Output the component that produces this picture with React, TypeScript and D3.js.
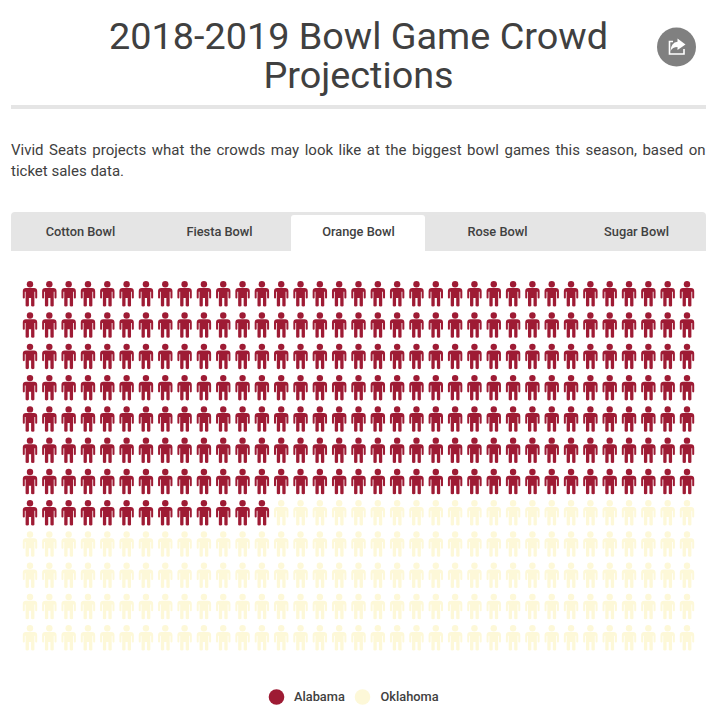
import * as d3 from "d3";

const tabs = ["Cotton Bowl", "Fiesta Bowl", "Orange Bowl", "Rose Bowl", "Sugar Bowl"];
const activeTab = "Orange Bowl";
const teams = ["Alabama", "Oklahoma"];
const teamCounts = [258, 162];
const teamColors = ["#9e1b34", "#fdf8d8"];
const columnCount = 35;
const rowCount = 12;
const titleLines = ["2018-2019 Bowl Game Crowd", "Projections"];
const introLines = [
  "Vivid Seats projects what the crowds may look like at the biggest bowl games this season, based on",
  "ticket sales data.",
];

const font = "Roboto, sans-serif";

// person drawn around its own centre, 14.5 wide and 25 tall
const personPath =
  "M-4,-6 L4,-6 Q7.2,-6 7.2,-3 L7.2,3.8 Q7.2,4.6 6.2,4.6 Q5.2,4.6 5.2,3.8 L5.2,-2.2 L4.4,-2.2 L4.4,11.8 Q4.4,12.6 2.9,12.6 Q1.1,12.6 1.1,11.8 L1.1,4 L-1.1,4 L-1.1,11.8 Q-1.1,12.6 -2.9,12.6 Q-4.4,12.6 -4.4,11.8 L-4.4,-2.2 L-5.2,-2.2 L-5.2,3.8 Q-5.2,4.6 -6.2,4.6 Q-7.2,4.6 -7.2,3.8 L-7.2,-3 Q-7.2,-6 -4,-6 Z";

export default function App() {
  const x = d3
    .scalePoint<number>()
    .domain(d3.range(columnCount))
    .range([30, 687]);
  const y = d3
    .scalePoint<number>()
    .domain(d3.range(rowCount))
    .range([294, 638]);
  const tabX = d3
    .scaleBand()
    .domain(tabs)
    .range([11, 706]);

  const people = teams.flatMap((_, t) => d3.range(teamCounts[t]).map(() => t));

  return (
    <svg width={720} height={720} style={{ position: "absolute", left: 0, top: 0, background: "#fff" }} fontFamily={font}>
      {titleLines.map((line, i) => (
        <text key={line} x={358.5} y={49 + i * 39} textAnchor="middle" fontSize={37.8} fill="#404040">
          {line}
        </text>
      ))}

      <circle cx={676.5} cy={47} r={19.5} fill="#808080" />
      <path d="M673,41.5 L669.5,41.5 L669.5,54 L684,54 L684,49" fill="none" stroke="#fff" strokeWidth={1.6} />
      <path d="M677.5,38.5 L685.5,44.5 L677.5,50 L677.5,47 Q672.5,47 670.5,51 Q671,42.5 677.5,41.8 Z" fill="#fff" />

      <rect x={11} y={105} width={695} height={4} fill="#e5e5e5" />

      <text x={11} y={155} fontSize={15} fill="#404040" wordSpacing={1.8}>
        {introLines[0]}
      </text>
      <text x={11} y={176} fontSize={15} fill="#404040">
        {introLines[1]}
      </text>

      <path d="M11,251 L11,216 Q11,212 15,212 L702,212 Q706,212 706,216 L706,251 Z" fill="#e5e5e5" />
      {tabs.map((tab) => {
        const left = tabX(tab)!;
        const active = tab === activeTab;
        return (
          <g key={tab}>
            {active && (
              <path
                d={`M${left + 2},251 L${left + 2},218 Q${left + 2},215 ${left + 5},215 L${left + 133},215 Q${left + 136},215 ${left + 136},218 L${left + 136},251 Z`}
                fill="#fff"
              />
            )}
            <text x={left + tabX.bandwidth() / 2} y={236} textAnchor="middle" fontSize={12.8} fontWeight={500} fill="#404040">
              {tab}
            </text>
          </g>
        );
      })}

      {people.map((t, i) => {
        const col = i % columnCount;
        const row = Math.floor(i / columnCount);
        return (
          <g key={i} transform={`translate(${x(col)},${y(row)})`} fill={teamColors[t]}>
            <circle cy={-9.7} r={3.2} />
            <path d={personPath} />
          </g>
        );
      })}

      <circle cx={276.5} cy={697} r={7.8} fill={teamColors[0]} />
      <text x={294} y={701} fontSize={12.8} fontWeight={500} fill="#404040">
        {teams[0]}
      </text>
      <circle cx={362.5} cy={697} r={7.8} fill={teamColors[1]} />
      <text x={380.5} y={701} fontSize={12.8} fontWeight={500} fill="#404040">
        {teams[1]}
      </text>
    </svg>
  );
}
